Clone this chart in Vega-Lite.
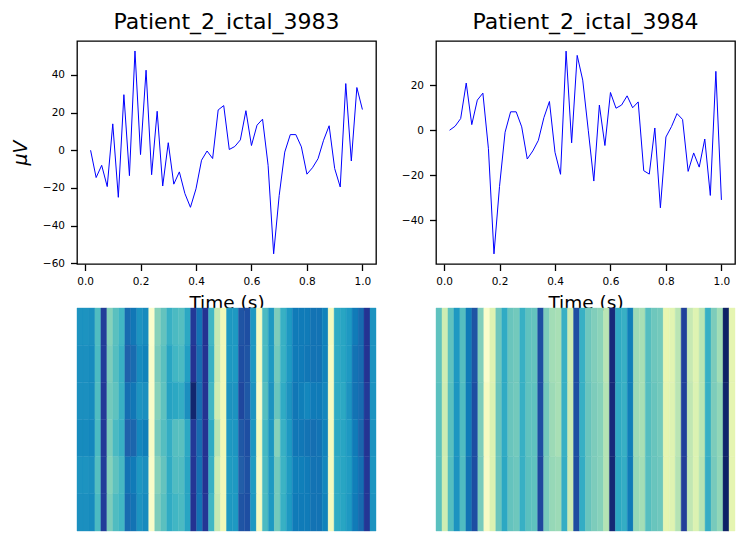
{"$schema":"https://vega.github.io/schema/vega-lite/v6.json","padding":{"left":10,"top":10,"right":0,"bottom":0},"background":"white","columns":2,"spacing":{"row":44,"column":60},"bounds":"flush","config":{"font":"DejaVu Sans","view":{"stroke":"#000000","strokeWidth":1.3},"title":{"fontSize":22,"font":"DejaVu Sans","fontWeight":"normal","color":"#000000","offset":7,"anchor":"middle"},"axis":{"grid":false,"domain":false,"tickColor":"#000000","tickSize":6.5,"tickWidth":1.3,"labelFont":"DejaVu Sans","labelFontSize":10.5,"labelColor":"#000000","labelPadding":6,"titleFont":"DejaVu Sans","titleFontWeight":"normal","titleColor":"#000000"}},"datasets":{"sig1":[{"t":0.02,"u":0},{"t":0.04,"u":-14.5},{"t":0.06,"u":-8},{"t":0.08,"u":-19.3},{"t":0.1,"u":14},{"t":0.12,"u":-25},{"t":0.14,"u":29.5},{"t":0.16,"u":-13.5},{"t":0.18,"u":52.7},{"t":0.2,"u":-2.3},{"t":0.22,"u":42.5},{"t":0.24,"u":-13},{"t":0.26,"u":20.7},{"t":0.28,"u":-19},{"t":0.3,"u":4},{"t":0.32,"u":-18},{"t":0.34,"u":-11.5},{"t":0.36,"u":-23},{"t":0.38,"u":-30.3},{"t":0.4,"u":-20.5},{"t":0.42,"u":-5.3},{"t":0.44,"u":-0.4},{"t":0.46,"u":-4.4},{"t":0.48,"u":21.4},{"t":0.5,"u":23.7},{"t":0.52,"u":0.4},{"t":0.54,"u":2},{"t":0.56,"u":5.5},{"t":0.58,"u":21},{"t":0.6,"u":2.5},{"t":0.62,"u":13.3},{"t":0.64,"u":16.5},{"t":0.66,"u":-8},{"t":0.68,"u":-55},{"t":0.7,"u":-24},{"t":0.72,"u":-1},{"t":0.74,"u":8.3},{"t":0.76,"u":8.3},{"t":0.78,"u":1.8},{"t":0.8,"u":-12.7},{"t":0.82,"u":-9.3},{"t":0.84,"u":-4.5},{"t":0.86,"u":5.3},{"t":0.88,"u":13},{"t":0.9,"u":-9.7},{"t":0.92,"u":-19.5},{"t":0.94,"u":35.4},{"t":0.96,"u":-5.7},{"t":0.98,"u":33.3},{"t":1,"u":21.6}],"sig2":[{"t":0.02,"u":0},{"t":0.04,"u":1.8},{"t":0.06,"u":5.2},{"t":0.08,"u":21},{"t":0.1,"u":2.5},{"t":0.12,"u":13.4},{"t":0.14,"u":16.5},{"t":0.16,"u":-8.2},{"t":0.18,"u":-55},{"t":0.2,"u":-25},{"t":0.22,"u":-0.9},{"t":0.24,"u":8.2},{"t":0.26,"u":8.2},{"t":0.28,"u":1.5},{"t":0.3,"u":-12.8},{"t":0.32,"u":-9.2},{"t":0.34,"u":-4.5},{"t":0.36,"u":5.6},{"t":0.38,"u":12.8},{"t":0.4,"u":-9.8},{"t":0.42,"u":-19.6},{"t":0.44,"u":35.2},{"t":0.46,"u":-5.6},{"t":0.48,"u":33.3},{"t":0.5,"u":22.3},{"t":0.52,"u":0},{"t":0.54,"u":-22.6},{"t":0.56,"u":11.2},{"t":0.58,"u":-6.8},{"t":0.6,"u":16.8},{"t":0.62,"u":9.8},{"t":0.64,"u":11.2},{"t":0.66,"u":15.3},{"t":0.68,"u":10},{"t":0.7,"u":12.6},{"t":0.72,"u":-18},{"t":0.74,"u":-19.5},{"t":0.76,"u":1},{"t":0.78,"u":-34.5},{"t":0.8,"u":-3},{"t":0.82,"u":1.6},{"t":0.84,"u":7.4},{"t":0.86,"u":4.8},{"t":0.88,"u":-18.3},{"t":0.9,"u":-10.1},{"t":0.92,"u":-16.4},{"t":0.94,"u":-3.9},{"t":0.96,"u":-29},{"t":0.98,"u":26.2},{"t":1,"u":-31}],"heat1":[
{"c":0,"r":0,"v":0.62},{"c":1,"r":0,"v":0.62},{"c":2,"r":0,"v":0.63},{"c":3,"r":0,"v":0.47},{"c":4,"r":0,"v":0.85},{"c":5,"r":0,"v":0.36},{"c":6,"r":0,"v":0.45},{"c":7,"r":0,"v":0.5},{"c":8,"r":0,"v":0.72},{"c":9,"r":0,"v":0.69},{"c":10,"r":0,"v":0.62},{"c":11,"r":0,"v":0.64},{"c":12,"r":0,"v":0.04},{"c":13,"r":0,"v":0.36},{"c":14,"r":0,"v":0.43},{"c":15,"r":0,"v":0.52},{"c":16,"r":0,"v":0.48},{"c":17,"r":0,"v":0.46},{"c":18,"r":0,"v":0.55},{"c":19,"r":0,"v":0.86},{"c":20,"r":0,"v":0.7},{"c":21,"r":0,"v":0.88},{"c":22,"r":0,"v":0.5},{"c":23,"r":0,"v":0.25},{"c":24,"r":0,"v":0.1},{"c":25,"r":0,"v":0.6},{"c":26,"r":0,"v":0.6},{"c":27,"r":0,"v":0.78},{"c":28,"r":0,"v":0.8},{"c":29,"r":0,"v":0.6},{"c":30,"r":0,"v":0.07},{"c":31,"r":0,"v":0.48},{"c":32,"r":0,"v":0.6},{"c":33,"r":0,"v":0.38},{"c":34,"r":0,"v":0.52},{"c":35,"r":0,"v":0.6},{"c":36,"r":0,"v":0.68},{"c":37,"r":0,"v":0.68},{"c":38,"r":0,"v":0.68},{"c":39,"r":0,"v":0.7},{"c":40,"r":0,"v":0.7},{"c":41,"r":0,"v":0.66},{"c":42,"r":0,"v":0.08},{"c":43,"r":0,"v":0.54},{"c":44,"r":0,"v":0.56},{"c":45,"r":0,"v":0.6},{"c":46,"r":0,"v":0.68},{"c":47,"r":0,"v":0.72},{"c":48,"r":0,"v":0.88},{"c":49,"r":0,"v":0.62},
{"c":0,"r":1,"v":0.63},{"c":1,"r":1,"v":0.63},{"c":2,"r":1,"v":0.64},{"c":3,"r":1,"v":0.48},{"c":4,"r":1,"v":0.85},{"c":5,"r":1,"v":0.38},{"c":6,"r":1,"v":0.46},{"c":7,"r":1,"v":0.52},{"c":8,"r":1,"v":0.74},{"c":9,"r":1,"v":0.72},{"c":10,"r":1,"v":0.64},{"c":11,"r":1,"v":0.66},{"c":12,"r":1,"v":0.05},{"c":13,"r":1,"v":0.38},{"c":14,"r":1,"v":0.45},{"c":15,"r":1,"v":0.56},{"c":16,"r":1,"v":0.5},{"c":17,"r":1,"v":0.48},{"c":18,"r":1,"v":0.58},{"c":19,"r":1,"v":0.88},{"c":20,"r":1,"v":0.72},{"c":21,"r":1,"v":0.88},{"c":22,"r":1,"v":0.52},{"c":23,"r":1,"v":0.25},{"c":24,"r":1,"v":0.1},{"c":25,"r":1,"v":0.6},{"c":26,"r":1,"v":0.6},{"c":27,"r":1,"v":0.8},{"c":28,"r":1,"v":0.78},{"c":29,"r":1,"v":0.6},{"c":30,"r":1,"v":0.07},{"c":31,"r":1,"v":0.48},{"c":32,"r":1,"v":0.6},{"c":33,"r":1,"v":0.4},{"c":34,"r":1,"v":0.52},{"c":35,"r":1,"v":0.6},{"c":36,"r":1,"v":0.68},{"c":37,"r":1,"v":0.68},{"c":38,"r":1,"v":0.69},{"c":39,"r":1,"v":0.7},{"c":40,"r":1,"v":0.7},{"c":41,"r":1,"v":0.66},{"c":42,"r":1,"v":0.07},{"c":43,"r":1,"v":0.54},{"c":44,"r":1,"v":0.56},{"c":45,"r":1,"v":0.6},{"c":46,"r":1,"v":0.7},{"c":47,"r":1,"v":0.72},{"c":48,"r":1,"v":0.88},{"c":49,"r":1,"v":0.62},
{"c":0,"r":2,"v":0.63},{"c":1,"r":2,"v":0.63},{"c":2,"r":2,"v":0.64},{"c":3,"r":2,"v":0.47},{"c":4,"r":2,"v":0.86},{"c":5,"r":2,"v":0.4},{"c":6,"r":2,"v":0.44},{"c":7,"r":2,"v":0.52},{"c":8,"r":2,"v":0.71},{"c":9,"r":2,"v":0.69},{"c":10,"r":2,"v":0.62},{"c":11,"r":2,"v":0.63},{"c":12,"r":2,"v":0.05},{"c":13,"r":2,"v":0.36},{"c":14,"r":2,"v":0.44},{"c":15,"r":2,"v":0.57},{"c":16,"r":2,"v":0.55},{"c":17,"r":2,"v":0.53},{"c":18,"r":2,"v":0.63},{"c":19,"r":2,"v":0.95},{"c":20,"r":2,"v":0.72},{"c":21,"r":2,"v":0.88},{"c":22,"r":2,"v":0.5},{"c":23,"r":2,"v":0.22},{"c":24,"r":2,"v":0.1},{"c":25,"r":2,"v":0.62},{"c":26,"r":2,"v":0.62},{"c":27,"r":2,"v":0.82},{"c":28,"r":2,"v":0.77},{"c":29,"r":2,"v":0.62},{"c":30,"r":2,"v":0.05},{"c":31,"r":2,"v":0.46},{"c":32,"r":2,"v":0.62},{"c":33,"r":2,"v":0.42},{"c":34,"r":2,"v":0.54},{"c":35,"r":2,"v":0.62},{"c":36,"r":2,"v":0.69},{"c":37,"r":2,"v":0.67},{"c":38,"r":2,"v":0.65},{"c":39,"r":2,"v":0.68},{"c":40,"r":2,"v":0.68},{"c":41,"r":2,"v":0.65},{"c":42,"r":2,"v":0.07},{"c":43,"r":2,"v":0.54},{"c":44,"r":2,"v":0.55},{"c":45,"r":2,"v":0.62},{"c":46,"r":2,"v":0.7},{"c":47,"r":2,"v":0.72},{"c":48,"r":2,"v":0.86},{"c":49,"r":2,"v":0.62},
{"c":0,"r":3,"v":0.64},{"c":1,"r":3,"v":0.64},{"c":2,"r":3,"v":0.65},{"c":3,"r":3,"v":0.48},{"c":4,"r":3,"v":0.86},{"c":5,"r":3,"v":0.38},{"c":6,"r":3,"v":0.48},{"c":7,"r":3,"v":0.52},{"c":8,"r":3,"v":0.74},{"c":9,"r":3,"v":0.73},{"c":10,"r":3,"v":0.65},{"c":11,"r":3,"v":0.67},{"c":12,"r":3,"v":0.06},{"c":13,"r":3,"v":0.39},{"c":14,"r":3,"v":0.46},{"c":15,"r":3,"v":0.53},{"c":16,"r":3,"v":0.46},{"c":17,"r":3,"v":0.45},{"c":18,"r":3,"v":0.55},{"c":19,"r":3,"v":0.86},{"c":20,"r":3,"v":0.72},{"c":21,"r":3,"v":0.88},{"c":22,"r":3,"v":0.54},{"c":23,"r":3,"v":0.27},{"c":24,"r":3,"v":0.11},{"c":25,"r":3,"v":0.6},{"c":26,"r":3,"v":0.61},{"c":27,"r":3,"v":0.77},{"c":28,"r":3,"v":0.8},{"c":29,"r":3,"v":0.61},{"c":30,"r":3,"v":0.08},{"c":31,"r":3,"v":0.49},{"c":32,"r":3,"v":0.61},{"c":33,"r":3,"v":0.36},{"c":34,"r":3,"v":0.52},{"c":35,"r":3,"v":0.6},{"c":36,"r":3,"v":0.69},{"c":37,"r":3,"v":0.69},{"c":38,"r":3,"v":0.7},{"c":39,"r":3,"v":0.71},{"c":40,"r":3,"v":0.7},{"c":41,"r":3,"v":0.66},{"c":42,"r":3,"v":0.08},{"c":43,"r":3,"v":0.55},{"c":44,"r":3,"v":0.56},{"c":45,"r":3,"v":0.6},{"c":46,"r":3,"v":0.68},{"c":47,"r":3,"v":0.73},{"c":48,"r":3,"v":0.88},{"c":49,"r":3,"v":0.62},
{"c":0,"r":4,"v":0.62},{"c":1,"r":4,"v":0.62},{"c":2,"r":4,"v":0.63},{"c":3,"r":4,"v":0.46},{"c":4,"r":4,"v":0.85},{"c":5,"r":4,"v":0.36},{"c":6,"r":4,"v":0.44},{"c":7,"r":4,"v":0.49},{"c":8,"r":4,"v":0.7},{"c":9,"r":4,"v":0.68},{"c":10,"r":4,"v":0.61},{"c":11,"r":4,"v":0.63},{"c":12,"r":4,"v":0.05},{"c":13,"r":4,"v":0.36},{"c":14,"r":4,"v":0.43},{"c":15,"r":4,"v":0.54},{"c":16,"r":4,"v":0.47},{"c":17,"r":4,"v":0.47},{"c":18,"r":4,"v":0.56},{"c":19,"r":4,"v":0.87},{"c":20,"r":4,"v":0.71},{"c":21,"r":4,"v":0.88},{"c":22,"r":4,"v":0.52},{"c":23,"r":4,"v":0.23},{"c":24,"r":4,"v":0.1},{"c":25,"r":4,"v":0.59},{"c":26,"r":4,"v":0.6},{"c":27,"r":4,"v":0.75},{"c":28,"r":4,"v":0.79},{"c":29,"r":4,"v":0.59},{"c":30,"r":4,"v":0.06},{"c":31,"r":4,"v":0.48},{"c":32,"r":4,"v":0.6},{"c":33,"r":4,"v":0.4},{"c":34,"r":4,"v":0.51},{"c":35,"r":4,"v":0.59},{"c":36,"r":4,"v":0.67},{"c":37,"r":4,"v":0.67},{"c":38,"r":4,"v":0.68},{"c":39,"r":4,"v":0.7},{"c":40,"r":4,"v":0.7},{"c":41,"r":4,"v":0.65},{"c":42,"r":4,"v":0.08},{"c":43,"r":4,"v":0.54},{"c":44,"r":4,"v":0.56},{"c":45,"r":4,"v":0.59},{"c":46,"r":4,"v":0.67},{"c":47,"r":4,"v":0.71},{"c":48,"r":4,"v":0.87},{"c":49,"r":4,"v":0.61},
{"c":0,"r":5,"v":0.63},{"c":1,"r":5,"v":0.63},{"c":2,"r":5,"v":0.64},{"c":3,"r":5,"v":0.48},{"c":4,"r":5,"v":0.85},{"c":5,"r":5,"v":0.38},{"c":6,"r":5,"v":0.47},{"c":7,"r":5,"v":0.5},{"c":8,"r":5,"v":0.72},{"c":9,"r":5,"v":0.7},{"c":10,"r":5,"v":0.62},{"c":11,"r":5,"v":0.64},{"c":12,"r":5,"v":0.05},{"c":13,"r":5,"v":0.38},{"c":14,"r":5,"v":0.45},{"c":15,"r":5,"v":0.54},{"c":16,"r":5,"v":0.5},{"c":17,"r":5,"v":0.48},{"c":18,"r":5,"v":0.56},{"c":19,"r":5,"v":0.88},{"c":20,"r":5,"v":0.7},{"c":21,"r":5,"v":0.87},{"c":22,"r":5,"v":0.5},{"c":23,"r":5,"v":0.25},{"c":24,"r":5,"v":0.1},{"c":25,"r":5,"v":0.6},{"c":26,"r":5,"v":0.6},{"c":27,"r":5,"v":0.78},{"c":28,"r":5,"v":0.8},{"c":29,"r":5,"v":0.6},{"c":30,"r":5,"v":0.07},{"c":31,"r":5,"v":0.48},{"c":32,"r":5,"v":0.6},{"c":33,"r":5,"v":0.4},{"c":34,"r":5,"v":0.52},{"c":35,"r":5,"v":0.6},{"c":36,"r":5,"v":0.68},{"c":37,"r":5,"v":0.68},{"c":38,"r":5,"v":0.68},{"c":39,"r":5,"v":0.7},{"c":40,"r":5,"v":0.7},{"c":41,"r":5,"v":0.66},{"c":42,"r":5,"v":0.08},{"c":43,"r":5,"v":0.54},{"c":44,"r":5,"v":0.56},{"c":45,"r":5,"v":0.6},{"c":46,"r":5,"v":0.68},{"c":47,"r":5,"v":0.72},{"c":48,"r":5,"v":0.87},{"c":49,"r":5,"v":0.62}
],"heat2":[
{"c":0,"r":0,"v":0.44},{"c":1,"r":0,"v":0.22},{"c":2,"r":0,"v":0.44},{"c":3,"r":0,"v":0.6},{"c":4,"r":0,"v":0.46},{"c":5,"r":0,"v":0.68},{"c":6,"r":0,"v":0.78},{"c":7,"r":0,"v":0.37},{"c":8,"r":0,"v":0.04},{"c":9,"r":0,"v":0.17},{"c":10,"r":0,"v":0.41},{"c":11,"r":0,"v":0.54},{"c":12,"r":0,"v":0.42},{"c":13,"r":0,"v":0.4},{"c":14,"r":0,"v":0.52},{"c":15,"r":0,"v":0.44},{"c":16,"r":0,"v":0.43},{"c":17,"r":0,"v":0.8},{"c":18,"r":0,"v":0.38},{"c":19,"r":0,"v":0.31},{"c":20,"r":0,"v":0.3},{"c":21,"r":0,"v":0.52},{"c":22,"r":0,"v":0.23},{"c":23,"r":0,"v":0.8},{"c":24,"r":0,"v":0.52},{"c":25,"r":0,"v":0.41},{"c":26,"r":0,"v":0.37},{"c":27,"r":0,"v":0.35},{"c":28,"r":0,"v":0.27},{"c":29,"r":0,"v":0.93},{"c":30,"r":0,"v":0.54},{"c":31,"r":0,"v":0.52},{"c":32,"r":0,"v":0.67},{"c":33,"r":0,"v":0.32},{"c":34,"r":0,"v":0.3},{"c":35,"r":0,"v":0.46},{"c":36,"r":0,"v":0.41},{"c":37,"r":0,"v":0.4},{"c":38,"r":0,"v":0.14},{"c":39,"r":0,"v":0.16},{"c":40,"r":0,"v":0.27},{"c":41,"r":0,"v":0.84},{"c":42,"r":0,"v":0.25},{"c":43,"r":0,"v":0.17},{"c":44,"r":0,"v":0.27},{"c":45,"r":0,"v":0.52},{"c":46,"r":0,"v":0.38},{"c":47,"r":0,"v":0.31},{"c":48,"r":0,"v":0.97},{"c":49,"r":0,"v":0.15},
{"c":0,"r":1,"v":0.45},{"c":1,"r":1,"v":0.23},{"c":2,"r":1,"v":0.45},{"c":3,"r":1,"v":0.61},{"c":4,"r":1,"v":0.47},{"c":5,"r":1,"v":0.68},{"c":6,"r":1,"v":0.8},{"c":7,"r":1,"v":0.38},{"c":8,"r":1,"v":0.07},{"c":9,"r":1,"v":0.18},{"c":10,"r":1,"v":0.42},{"c":11,"r":1,"v":0.54},{"c":12,"r":1,"v":0.42},{"c":13,"r":1,"v":0.4},{"c":14,"r":1,"v":0.52},{"c":15,"r":1,"v":0.44},{"c":16,"r":1,"v":0.44},{"c":17,"r":1,"v":0.8},{"c":18,"r":1,"v":0.4},{"c":19,"r":1,"v":0.32},{"c":20,"r":1,"v":0.3},{"c":21,"r":1,"v":0.52},{"c":22,"r":1,"v":0.24},{"c":23,"r":1,"v":0.8},{"c":24,"r":1,"v":0.52},{"c":25,"r":1,"v":0.42},{"c":26,"r":1,"v":0.38},{"c":27,"r":1,"v":0.36},{"c":28,"r":1,"v":0.28},{"c":29,"r":1,"v":0.93},{"c":30,"r":1,"v":0.54},{"c":31,"r":1,"v":0.52},{"c":32,"r":1,"v":0.67},{"c":33,"r":1,"v":0.32},{"c":34,"r":1,"v":0.3},{"c":35,"r":1,"v":0.46},{"c":36,"r":1,"v":0.42},{"c":37,"r":1,"v":0.4},{"c":38,"r":1,"v":0.15},{"c":39,"r":1,"v":0.17},{"c":40,"r":1,"v":0.27},{"c":41,"r":1,"v":0.84},{"c":42,"r":1,"v":0.26},{"c":43,"r":1,"v":0.18},{"c":44,"r":1,"v":0.27},{"c":45,"r":1,"v":0.52},{"c":46,"r":1,"v":0.38},{"c":47,"r":1,"v":0.34},{"c":48,"r":1,"v":0.96},{"c":49,"r":1,"v":0.15},
{"c":0,"r":2,"v":0.45},{"c":1,"r":2,"v":0.22},{"c":2,"r":2,"v":0.46},{"c":3,"r":2,"v":0.62},{"c":4,"r":2,"v":0.47},{"c":5,"r":2,"v":0.7},{"c":6,"r":2,"v":0.8},{"c":7,"r":2,"v":0.39},{"c":8,"r":2,"v":0.06},{"c":9,"r":2,"v":0.18},{"c":10,"r":2,"v":0.42},{"c":11,"r":2,"v":0.55},{"c":12,"r":2,"v":0.43},{"c":13,"r":2,"v":0.41},{"c":14,"r":2,"v":0.52},{"c":15,"r":2,"v":0.45},{"c":16,"r":2,"v":0.44},{"c":17,"r":2,"v":0.82},{"c":18,"r":2,"v":0.39},{"c":19,"r":2,"v":0.33},{"c":20,"r":2,"v":0.32},{"c":21,"r":2,"v":0.53},{"c":22,"r":2,"v":0.24},{"c":23,"r":2,"v":0.81},{"c":24,"r":2,"v":0.53},{"c":25,"r":2,"v":0.42},{"c":26,"r":2,"v":0.38},{"c":27,"r":2,"v":0.36},{"c":28,"r":2,"v":0.28},{"c":29,"r":2,"v":0.94},{"c":30,"r":2,"v":0.55},{"c":31,"r":2,"v":0.53},{"c":32,"r":2,"v":0.68},{"c":33,"r":2,"v":0.33},{"c":34,"r":2,"v":0.31},{"c":35,"r":2,"v":0.46},{"c":36,"r":2,"v":0.42},{"c":37,"r":2,"v":0.41},{"c":38,"r":2,"v":0.15},{"c":39,"r":2,"v":0.17},{"c":40,"r":2,"v":0.28},{"c":41,"r":2,"v":0.85},{"c":42,"r":2,"v":0.26},{"c":43,"r":2,"v":0.18},{"c":44,"r":2,"v":0.28},{"c":45,"r":2,"v":0.53},{"c":46,"r":2,"v":0.39},{"c":47,"r":2,"v":0.34},{"c":48,"r":2,"v":0.97},{"c":49,"r":2,"v":0.15}
]},"concat":[
{"width":299,"height":223,"title":"Patient_2_ictal_3983","data":{"name":"sig1"},"mark":{"type":"line","color":"#0000ff","strokeWidth":1},"encoding":{"x":{"field":"t","type":"quantitative","scale":{"domain":[-0.029,1.049],"nice":false,"zero":false},"axis":{"values":[0,0.2,0.4,0.6,0.8,1],"format":".1f","title":"Time (s)","titleFontSize":18.5,"titlePadding":6}},"y":{"field":"u","type":"quantitative","scale":{"domain":[-60.4,58],"nice":false,"zero":false},"axis":{"values":[-60,-40,-20,0,20,40],"title":"μV","titleFontSize":19,"titleFontStyle":"italic","titlePadding":12}}}},
{"width":299,"height":223,"title":"Patient_2_ictal_3984","data":{"name":"sig2"},"mark":{"type":"line","color":"#0000ff","strokeWidth":1},"encoding":{"x":{"field":"t","type":"quantitative","scale":{"domain":[-0.029,1.049],"nice":false,"zero":false},"axis":{"values":[0,0.2,0.4,0.6,0.8,1],"format":".1f","title":"Time (s)","titleFontSize":18.5,"titlePadding":6}},"y":{"field":"u","type":"quantitative","scale":{"domain":[-59.5,39.7],"nice":false,"zero":false},"axis":{"values":[-40,-20,0,20],"title":null}}}},
{"width":299,"height":223,"view":{"stroke":null},"data":{"name":"heat1"},"mark":{"type":"rect","strokeWidth":0.4},"encoding":{"x":{"field":"c","type":"ordinal","axis":null},"y":{"field":"r","type":"ordinal","axis":null},"stroke":{"field":"v","type":"quantitative","legend":null,"scale":{"domain":[0,0.125,0.25,0.375,0.5,0.625,0.75,0.875,1],"range":["#ffffd9","#edf8b1","#c7e9b4","#7fcdbb","#41b6c4","#1d91c0","#225ea8","#253494","#081d58"]}},"color":{"field":"v","type":"quantitative","legend":null,"scale":{"domain":[0,0.125,0.25,0.375,0.5,0.625,0.75,0.875,1],"range":["#ffffd9","#edf8b1","#c7e9b4","#7fcdbb","#41b6c4","#1d91c0","#225ea8","#253494","#081d58"]}}}},
{"width":299,"height":223,"view":{"stroke":null},"data":{"name":"heat2"},"mark":{"type":"rect","strokeWidth":0.4},"encoding":{"x":{"field":"c","type":"ordinal","axis":null},"y":{"field":"r","type":"ordinal","axis":null},"stroke":{"field":"v","type":"quantitative","legend":null,"scale":{"domain":[0,0.125,0.25,0.375,0.5,0.625,0.75,0.875,1],"range":["#ffffd9","#edf8b1","#c7e9b4","#7fcdbb","#41b6c4","#1d91c0","#225ea8","#253494","#081d58"]}},"color":{"field":"v","type":"quantitative","legend":null,"scale":{"domain":[0,0.125,0.25,0.375,0.5,0.625,0.75,0.875,1],"range":["#ffffd9","#edf8b1","#c7e9b4","#7fcdbb","#41b6c4","#1d91c0","#225ea8","#253494","#081d58"]}}}}
]}
